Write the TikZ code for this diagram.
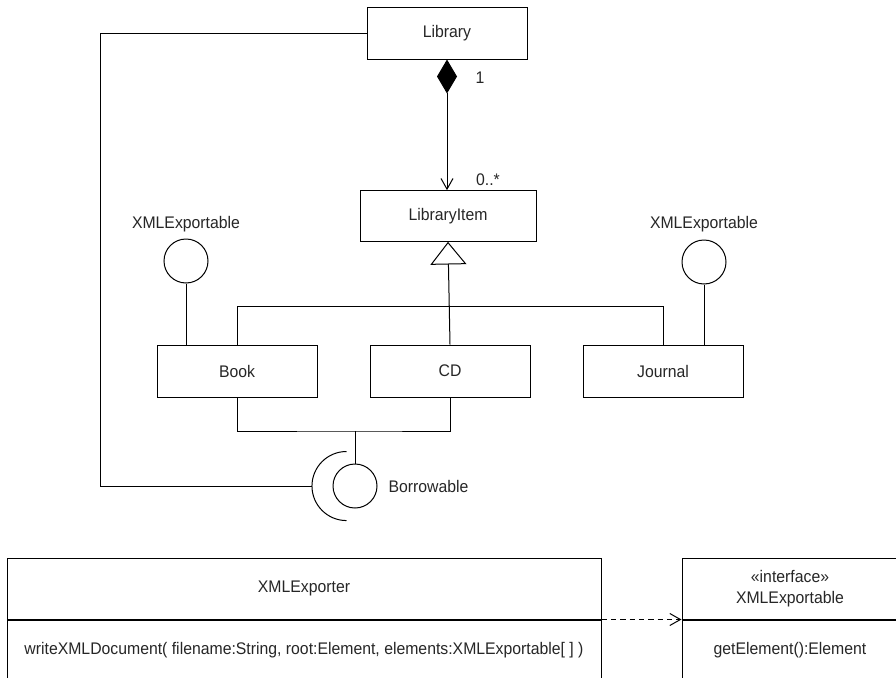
\documentclass[tikz,border=0pt]{standalone}
\usepackage{fontspec}
\setmainfont[FakeStretch=0.94]{Liberation Sans}
\usepackage{tikz}
\usetikzlibrary{arrows.meta,positioning}

\begin{document}
\begin{tikzpicture}[x=0.75pt, y=-0.75pt,
  font=\fontsize{12.6}{15.6}\selectfont, line width=0.75pt, text=black!85,
  box/.style={draw, minimum width=120pt, minimum height=39pt, inner sep=0pt},
  ball/.style={draw, circle, minimum size=33pt, inner sep=0pt},
  lab/.style={inner sep=0pt},
  comp/.style={{Diamond[length=25.5pt, width=15pt]}-{Straight Barb[length=8pt, width=9pt]}},
  gen/.style={-{Triangle[open, length=17pt, width=27pt]}},
  dep/.style={dashed, dash pattern=on 4pt off 3pt, -{Straight Barb[length=8pt, width=9pt]}}]
\useasboundingbox (0,0) rectangle (896,678);
\clip (0,0) rectangle (896,678);
% library and its items
\node[box] (lib) at (447,33) {Library};
\node[box, minimum width=132pt, minimum height=38pt] (item) at (448,216) {LibraryItem};
\node[box] (book) at (237,371) {Book};
\node[box, right=39pt of book] (cd) {CD};
\node[box, right=39pt of cd] (jour) {Journal};
\draw[comp] (lib.south) -- (lib.south |- item.north);
\node[lab] (one) at (480,78) {1};
\node[lab] (many) at (488,180) {0..*};
\draw[gen] (cd.north) -- (item.south);
\draw (book.north) -- ++(0,-38) -| (jour.north);
% provided interfaces
\node[ball] (xa) at (186,261) {};
\node[ball] (xb) at (704,262) {};
\node[lab] (xalab) at (186,224) {XMLExportable};
\node[lab] (xblab) at (704,224) {XMLExportable};
\draw (xa) -- (xa |- book.north);
\draw (xb) -- (xb |- jour.north);
% borrowable: ball and socket
\node[ball] (borr) at (355,486) {};
\node[lab, anchor=west] (borrlab) at (388,486) {Borrowable};
\coordinate (join) at (355,431);
\coordinate (sock) at (312,486);
\draw (book.south) |- (join) -| (cd.south);
\draw (join) -- (borr.north);
\draw (346.5,451.5) arc[start angle=90, end angle=270, radius=25.9pt];
\draw (lib.west) -- ++(-266,0) |- (sock);
% exporter and interface
\node[box, minimum width=445.5pt, minimum height=45.75pt] (exph) at (304,588.5) {XMLExporter};
\node[box, minimum width=445.5pt, minimum height=45pt, below=0pt of exph] (expm) {writeXMLDocument( filename:String, root:Element, elements:XMLExportable[ ] )};
\node[box, minimum width=162pt, minimum height=45.75pt, align=center] (ifch) at (790,588.5) {«interface»\\XMLExportable};
\node[box, minimum width=162pt, minimum height=45pt, below=0pt of ifch] (ifcm) {getElement():Element};
\draw[dep] (exph.south east) -- (ifch.south west);
\end{tikzpicture}
\end{document}
